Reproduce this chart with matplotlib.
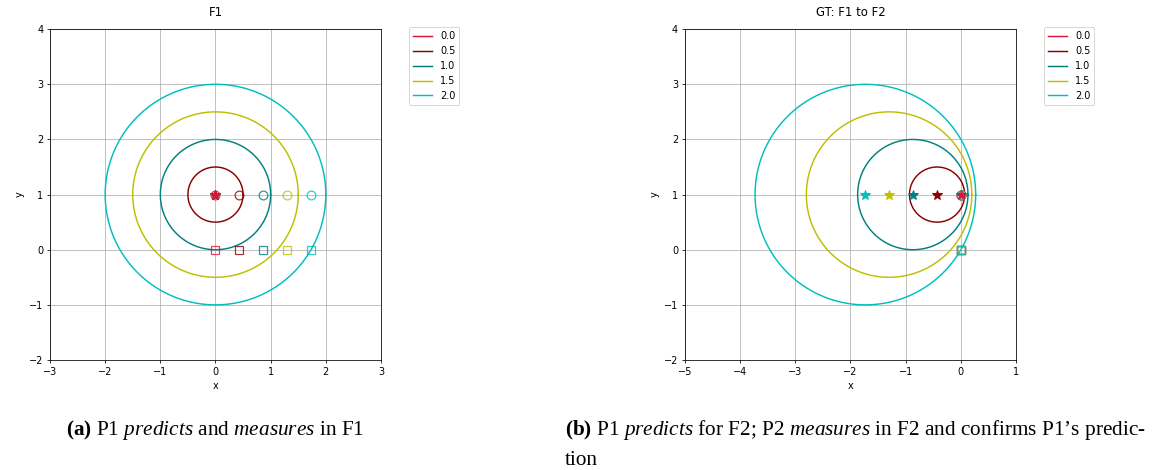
import numpy as np
import matplotlib.pyplot as plt

plt.rcParams['mathtext.fontset'] = 'custom'
plt.rcParams['mathtext.rm'] = 'Liberation Serif'
plt.rcParams['mathtext.it'] = 'Liberation Serif:italic'
plt.rcParams['mathtext.bf'] = 'Liberation Serif:bold'

radii = [0.0, 0.5, 1.0, 1.5, 2.0]
labels = ["0.0", "0.5", "1.0", "1.5", "2.0"]
colors = ["crimson", "darkred", "teal", "y", "c"]

# F1: all circles share the same centre
f1_cx = [0.0, 0.0, 0.0, 0.0, 0.0]
f1_cy = [1.0, 1.0, 1.0, 1.0, 1.0]
f1_meas_x = [0.0, 0.43, 0.87, 1.3, 1.73]
f1_meas_y = [1.0, 1.0, 1.0, 1.0, 1.0]
f1_sq_x = [0.0, 0.43, 0.87, 1.3, 1.73]
f1_sq_y = [0.0, 0.0, 0.0, 0.0, 0.0]

# F2: centres shifted along x
f2_cx = [0.0, -0.43, -0.87, -1.3, -1.73]
f2_cy = [1.0, 1.0, 1.0, 1.0, 1.0]
f2_meas_x = [0.0, 0.0, 0.0, 0.0, 0.0]
f2_meas_y = [1.0, 1.0, 1.0, 1.0, 1.0]
f2_sq_x = [0.0, 0.0, 0.0, 0.0, 0.0]
f2_sq_y = [0.0, 0.0, 0.0, 0.0, 0.0]

theta = np.linspace(0, 2 * np.pi, 400)


def draw(ax, cx, cy, mx, my, sx, sy, title, xlim):
    n = len(radii)
    for i, (r, lab, col) in enumerate(zip(radii, labels, colors)):
        ax.plot(cx[i] + r * np.cos(theta), cy[i] + r * np.sin(theta),
                color=col, lw=1.5, label=lab)
    for i, col in enumerate(colors):
        ax.plot(mx[i], my[i], "o", mfc="none", mec=col, ms=9, mew=1.3, alpha=0.8)
        ax.plot(sx[i], sy[i], "s", mfc="none", mec=col, ms=9, mew=1.3, alpha=0.8)
        ax.plot(cx[i], cy[i], "*", color=col, ms=11, zorder=10 + n - i)
    ax.set_xlim(*xlim)
    ax.set_ylim(-2, 4)
    ax.set_xlabel("x")
    ax.set_ylabel("y")
    ax.set_title(title, pad=14)
    ax.grid(True)
    ax.legend(loc="upper left", bbox_to_anchor=(1.085, 1.005), borderaxespad=0)


DPI = 70
fig = plt.figure(figsize=(1152 / DPI, 470 / DPI), dpi=DPI)
ax1 = fig.add_axes([0.0434, 0.234, 0.2873, 0.704])
ax2 = fig.add_axes([0.5946, 0.234, 0.2873, 0.704])

draw(ax1, f1_cx, f1_cy, f1_meas_x, f1_meas_y, f1_sq_x, f1_sq_y, "F1", (-3, 3))
draw(ax2, f2_cx, f2_cy, f2_meas_x, f2_meas_y, f2_sq_x, f2_sq_y, "GT: F1 to F2", (-5, 1))

cap = dict(fontfamily="Liberation Serif", fontsize=21.8, va="baseline")
fig.text(0.0573, 0.0745,
         r"$\mathbf{(a)}$ P1 $\mathit{predicts}$ and $\mathit{measures}$ in F1", **cap)
fig.text(0.4905, 0.0745,
         r"$\mathbf{(b)}$ P1 $\mathit{predicts}$ for F2; P2 $\mathit{measures}$ in F2 and confirms P1’s predic-",
         **cap)
fig.text(0.4905, 0.0105, "tion", **cap)

fig.savefig("out.png", dpi=DPI)
